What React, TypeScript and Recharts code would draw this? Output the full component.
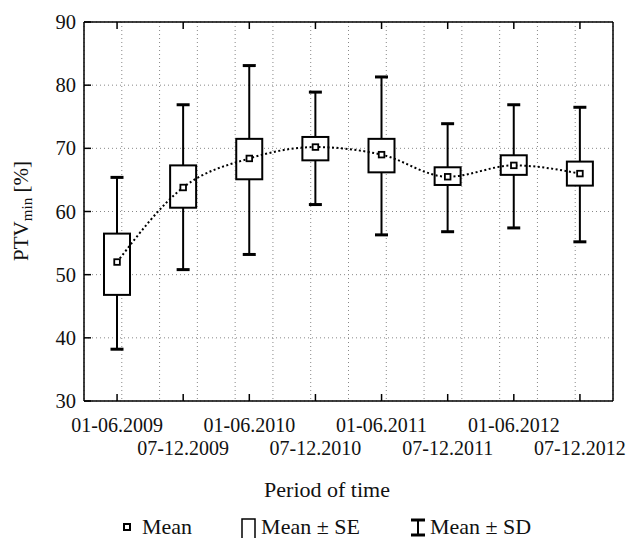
import React from "react";
import {
  ComposedChart,
  Bar,
  Line,
  XAxis,
  YAxis,
  CartesianGrid,
} from "recharts";

const categories = [
  "01-06.2009",
  "07-12.2009",
  "01-06.2010",
  "07-12.2010",
  "01-06.2011",
  "07-12.2011",
  "01-06.2012",
  "07-12.2012",
];
const means = [52.0, 63.8, 68.4, 70.2, 69.0, 65.5, 67.3, 66.0];
const seLow = [46.8, 60.6, 65.1, 68.1, 66.2, 64.2, 65.8, 64.1];
const seHigh = [56.5, 67.3, 71.5, 71.8, 71.5, 67.0, 68.9, 67.9];
const sdLow = [38.2, 50.8, 53.2, 61.1, 56.3, 56.8, 57.4, 55.2];
const sdHigh = [65.4, 76.9, 83.1, 78.9, 81.3, 73.9, 76.9, 76.5];
const yTicks = [30, 40, 50, 60, 70, 80, 90];
const gridSteps = Array.from({ length: 33 }, (_, i) => i / 4);

const data = categories.map((c, i) => ({
  cat: c,
  mean: means[i],
  se: [seLow[i], seHigh[i]],
  sd: [sdLow[i], sdHigh[i]],
}));

const FONT = "'Liberation Serif', serif";
const TICK_LEN = 7;

const BottomTick = (props: any) => {
  const { x, y, payload, index } = props;
  const row = index % 2;
  return (
    <g>
      <line x1={x} y1={y} x2={x} y2={y - TICK_LEN} stroke="#000" strokeWidth={1.5} />
      <text
        x={x}
        y={y + 31 + row * 23}
        textAnchor="middle"
        fontFamily={FONT}
        fontSize={20}
        fill="#111"
      >
        {payload.value}
      </text>
    </g>
  );
};

const TopTick = (props: any) => {
  const { x, y } = props;
  return <line x1={x} y1={y} x2={x} y2={y + TICK_LEN} stroke="#000" strokeWidth={1.5} />;
};

const LeftTick = (props: any) => {
  const { x, y, payload } = props;
  return (
    <g>
      <line x1={x} y1={y} x2={x + TICK_LEN} y2={y} stroke="#000" strokeWidth={1.5} />
      <text
        x={x - 8}
        y={y + 7}
        textAnchor="end"
        fontFamily={FONT}
        fontSize={20.5}
        fill="#111"
      >
        {payload.value}
      </text>
    </g>
  );
};

const RightTick = (props: any) => {
  const { x, y } = props;
  return <line x1={x} y1={y} x2={x - TICK_LEN} y2={y} stroke="#000" strokeWidth={1.5} />;
};

const WhiskerShape = (props: any) => {
  const { x, y, width, height } = props;
  const cx = x + width / 2;
  const capHalf = 6.5;
  return (
    <g>
      <line x1={cx} y1={y} x2={cx} y2={y + height} stroke="#000" strokeWidth={2} />
      <line x1={cx - capHalf} y1={y} x2={cx + capHalf} y2={y} stroke="#000" strokeWidth={3} />
      <line
        x1={cx - capHalf}
        y1={y + height}
        x2={cx + capHalf}
        y2={y + height}
        stroke="#000"
        strokeWidth={3}
      />
    </g>
  );
};

const BoxShape = (props: any) => {
  const { x, y, width, height } = props;
  return (
    <rect x={x} y={y} width={width} height={height} fill="#fff" stroke="#000" strokeWidth={2} />
  );
};

const MeanDot = (props: any) => {
  const { cx, cy } = props;
  return (
    <rect
      x={cx - 2.8}
      y={cy - 2.8}
      width={5.6}
      height={5.6}
      fill="#fff"
      stroke="#000"
      strokeWidth={1.8}
    />
  );
};

export default function App() {
  return (
    <div style={{ position: "absolute", left: 0, top: 0, width: 630, height: 538, background: "#fff" }}>
      <ComposedChart
        width={630}
        height={538}
        data={data}
        margin={{ top: 12, right: 7, bottom: 77, left: 24 }}
      >
        <CartesianGrid
          xAxisId="grid"
          yAxisId="left"
          horizontal={true}
          vertical={true}
          stroke="#888"
          strokeWidth={1}
          strokeDasharray="1 3"
        />
        <XAxis
          dataKey="cat"
          xAxisId="bottom"
          orientation="bottom"
          height={60}
          interval={0}
          tickSize={0}
          tickMargin={0}
          tickLine={false}
          axisLine={{ stroke: "#000", strokeWidth: 1.5 }}
          tick={<BottomTick />}
        />
        <XAxis
          dataKey="cat"
          xAxisId="top"
          orientation="top"
          height={10}
          interval={0}
          tickSize={0}
          tickMargin={0}
          tickLine={false}
          axisLine={{ stroke: "#000", strokeWidth: 1.5 }}
          tick={<TopTick />}
        />
        <XAxis xAxisId="box" dataKey="cat" hide />
        <XAxis
          xAxisId="grid"
          type="number"
          domain={[0, 8]}
          ticks={gridSteps}
          hide
        />
        <YAxis
          yAxisId="left"
          domain={[30, 90]}
          ticks={yTicks}
          width={60}
          tickSize={0}
          tickMargin={0}
          tickLine={false}
          axisLine={{ stroke: "#000", strokeWidth: 1.5 }}
          tick={<LeftTick />}
        />
        <YAxis
          yAxisId="right"
          orientation="right"
          domain={[30, 90]}
          ticks={yTicks}
          width={10}
          tickSize={0}
          tickMargin={0}
          tickLine={false}
          axisLine={{ stroke: "#000", strokeWidth: 1.5 }}
          tick={<RightTick />}
        />
        <Bar
          dataKey="sd"
          xAxisId="bottom"
          yAxisId="left"
          barSize={26}
          shape={<WhiskerShape />}
          isAnimationActive={false}
        />
        <Bar
          dataKey="se"
          xAxisId="box"
          yAxisId="left"
          barSize={26}
          shape={<BoxShape />}
          isAnimationActive={false}
        />
        <Line
          dataKey="mean"
          xAxisId="bottom"
          yAxisId="left"
          type="monotone"
          stroke="#000"
          strokeWidth={2}
          strokeDasharray="2 2.5"
          dot={<MeanDot />}
          activeDot={false}
          isAnimationActive={false}
        />
      </ComposedChart>
      <div
        style={{
          position: "absolute",
          left: 8,
          top: 211,
          transform: "translate(-50%, -50%) rotate(-90deg)",
          transformOrigin: "center",
          whiteSpace: "nowrap",
          fontFamily: FONT,
          fontSize: 21,
          color: "#111",
          marginLeft: 14,
        }}
      >
        PTV<sub style={{ fontSize: 15, verticalAlign: "-4px" }}>min</sub> [%]
      </div>
      <div
        style={{
          position: "absolute",
          left: 0,
          width: 654,
          top: 477,
          textAlign: "center",
          fontFamily: FONT,
          fontSize: 22,
          color: "#111",
        }}
      >
        Period of time
      </div>
      <div
        style={{
          position: "absolute",
          top: 515,
          left: 120,
          fontFamily: FONT,
          fontSize: 22,
          lineHeight: "24px",
          color: "#111",
          whiteSpace: "nowrap",
          display: "flex",
          alignItems: "center",
        }}
      >
        <svg width={14} height={14} style={{ marginRight: 8 }}>
          <rect x={4} y={4} width={6} height={6} fill="#fff" stroke="#000" strokeWidth={2} />
        </svg>
        <span style={{ marginRight: 48 }}>Mean</span>
        <svg width={18} height={22} style={{ marginRight: 3 }}>
          <path d="M2 22 V3 H15 V22" fill="none" stroke="#000" strokeWidth={1.5} />
        </svg>
        <span style={{ marginRight: 50 }}>Mean ± SE</span>
        <svg width={16} height={20} style={{ marginRight: 4 }}>
          <line x1={8} y1={4} x2={8} y2={17} stroke="#000" strokeWidth={2} />
          <line x1={1} y1={3} x2={15} y2={3} stroke="#000" strokeWidth={3} />
          <line x1={1} y1={18} x2={15} y2={18} stroke="#000" strokeWidth={3} />
        </svg>
        <span>Mean ± SD</span>
      </div>
    </div>
  );
}
